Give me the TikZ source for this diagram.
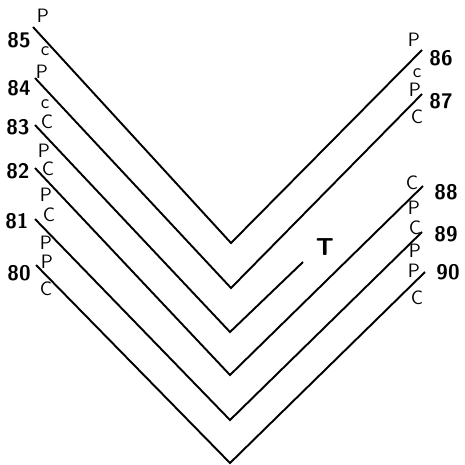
\documentclass[tikz,border=0pt]{standalone}
\usetikzlibrary{positioning}

\begin{document}
\begin{tikzpicture}[x=0.02cm, y=-0.02cm, line width=1.1pt,
    lbl/.style={font=\sffamily\fontsize{11}{11}\selectfont, inner sep=0pt},
    num/.style={font=\sffamily\bfseries\fontsize{12}{12}\selectfont, inner sep=0pt}]
    \useasboundingbox (0,0) rectangle (465,464);

    % left ends, bottom points, right ends
    \coordinate (A1) at (33,27);  \coordinate (B1) at (231,243); \coordinate (C1) at (422,50);
    \coordinate (A2) at (35,78);  \coordinate (B2) at (231,288); \coordinate (C2) at (422,94);
    \coordinate (A3) at (35,125); \coordinate (B3) at (230,332); \coordinate (C3) at (303,262);
    \coordinate (A4) at (35,168); \coordinate (B4) at (230,375); \coordinate (C4) at (423,186);
    \coordinate (A5) at (35,219); \coordinate (B5) at (230,420); \coordinate (C5) at (422,232);
    \coordinate (A6) at (36,265); \coordinate (B6) at (230,463); \coordinate (C6) at (425,272);

    \draw (A1) -- (B1) -- (C1);
    \draw (A2) -- (B2) -- (C2);
    \draw (A3) -- (B3) -- (C3);
    \draw (A4) -- (B4) -- (C4);
    \draw (A5) -- (B5) -- (C5);
    \draw (A6) -- (B6) -- (C6);

    % left side
    \node[lbl] (p85) at (43,16) {P};
    \node[num] (n85) at (19,40) {85};
    \node[lbl] (c85) at (45,51) {c};
    \node[lbl] (p84) at (42,72) {P};
    \node[num] (n84) at (19,88) {84};
    \node[lbl] (c84) at (45,104) {c};
    \node[lbl] (c83) at (47,122) {C};
    \node[num] (n83) at (18,127) {83};
    \node[lbl] (p83) at (44,151) {P};
    \node[lbl] (c82) at (48,169) {C};
    \node[num] (n82) at (18,171) {82};
    \node[lbl] (p82) at (46,195) {P};
    \node[lbl] (c81) at (49,215) {C};
    \node[num] (n81) at (17,221) {81};
    \node[lbl] (p81) at (46,243) {P};
    \node[lbl] (p80) at (47,262) {P};
    \node[num] (n80) at (19,273) {80};
    \node[lbl] (c80) at (46,289) {C};

    % right side
    \node[lbl] (p86) at (414,40) {P};
    \node[num] (n86) at (441,58) {86};
    \node[lbl] (c86) at (417,73) {c};
    \node[lbl] (p87) at (415,90) {P};
    \node[num] (n87) at (441,101) {87};
    \node[lbl] (c87) at (417,117) {C};
    \node[lbl] (c88) at (412,183) {C};
    \node[num] (n88) at (446,192) {88};
    \node[lbl] (p88) at (414,208) {P};
    \node[lbl] (c89) at (415,228) {C};
    \node[num] (n89) at (446,234) {89};
    \node[lbl] (p89) at (415,251) {P};
    \node[lbl] (p90) at (414,271) {P};
    \node[num] (n90) at (448,272) {90};
    \node[lbl] (c90) at (417,298) {C};

    \node[num, font=\sffamily\bfseries\fontsize{14}{14}\selectfont] (t) at (325,247) {T};
\end{tikzpicture}
\end{document}
